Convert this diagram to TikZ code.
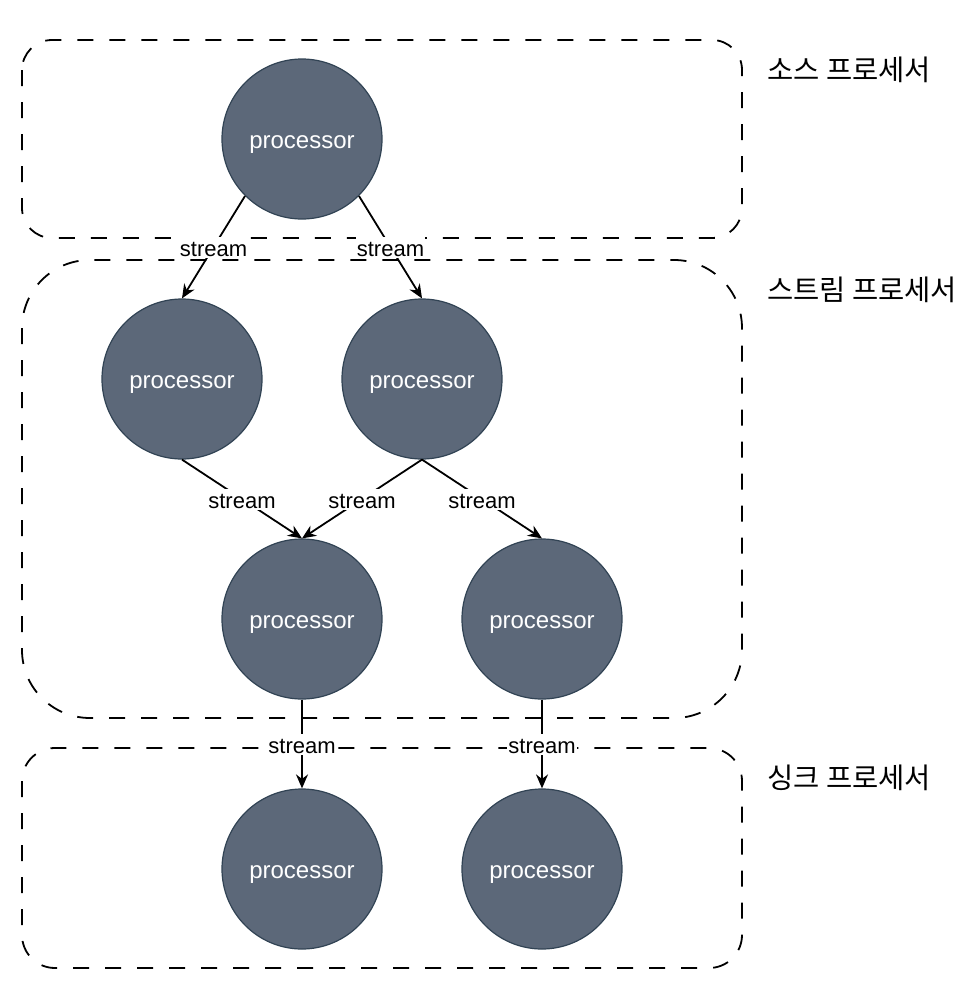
\documentclass[tikz,border=0pt]{standalone}
\usepackage{fontspec}
\setmainfont{Liberation Sans}
\newfontfamily\kr{Noto Sans CJK KR}
\usetikzlibrary{arrows.meta}
\definecolor{procfill}{HTML}{5C6879}
\definecolor{procline}{HTML}{314354}
\begin{document}
\begin{tikzpicture}[x=1pt,y=-1pt,
  proc/.style={circle,draw=procline,line width=1.2pt,fill=procfill,minimum size=160pt,inner sep=0pt,text=white,font=\fontsize{24}{26}\selectfont,text height=18.5pt,text depth=0pt},
  grp/.style={draw=black,line width=1.8pt,dash pattern=on 16pt off 16pt},
  flow/.style={draw=black,line width=1.8pt,-{Stealth[length=14pt,width=12pt]}},
  lbl/.style={fill=white,inner sep=1pt,font=\fontsize{22}{24}\selectfont,text height=19pt,text depth=0pt},
  grplabel/.style={anchor=west,inner sep=0pt,font=\kr\fontsize{28.5}{30}\selectfont}]
\useasboundingbox (0,0) rectangle (980,1002);
% groups
\draw[grp,rounded corners=30pt] (22,40) rectangle (742,238);
\draw[grp,rounded corners=68pt] (22,260) rectangle (742,718);
\draw[grp,rounded corners=33pt] (22,748) rectangle (742,968);
\node[grplabel] (g1) at (767,70) {소스 프로세서};
\node[grplabel] (g2) at (767,290) {스트림 프로세서};
\node[grplabel] (g3) at (767,778) {싱크 프로세서};
% processors
\node[proc] (src) at (302,139) {processor};
\node[proc] (s1) at (182,379) {processor};
\node[proc] (s2) at (422,379) {processor};
\node[proc] (s3) at (302,619) {processor};
\node[proc] (s4) at (542,619) {processor};
\node[proc] (k1) at (302,869) {processor};
\node[proc] (k2) at (542,869) {processor};
% flows
\draw[flow] (src.south west) -- node[lbl] {stream} (s1.north);
\draw[flow] (src.south east) -- node[lbl] {stream} (s2.north);
\draw[flow] (s1.south) -- node[lbl] {stream} (s3.north);
\draw[flow] (s2.south) -- node[lbl] {stream} (s3.north);
\draw[flow] (s2.south) -- node[lbl] {stream} (s4.north);
\draw[flow] (s3.south) -- node[lbl] {stream} (k1.north);
\draw[flow] (s4.south) -- node[lbl] {stream} (k2.north);
\end{tikzpicture}
\end{document}
